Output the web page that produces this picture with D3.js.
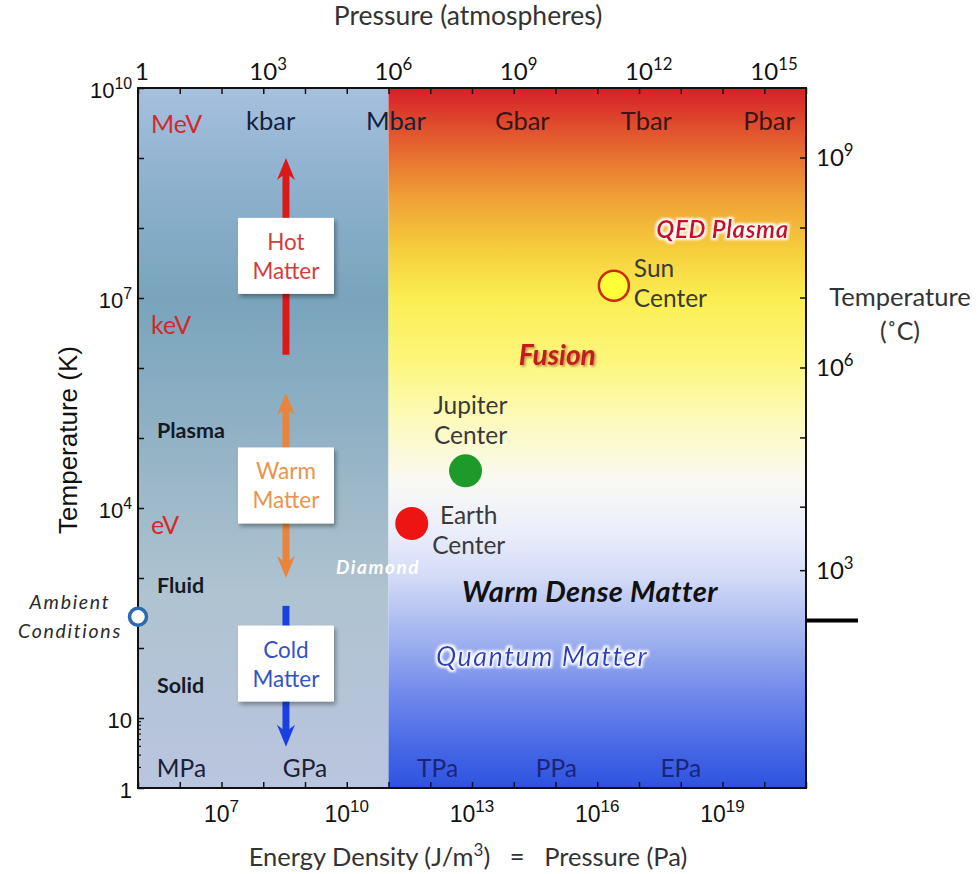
<!DOCTYPE html>
<html><head><meta charset="utf-8">
<script src="https://cdn.jsdelivr.net/npm/d3@7"></script>
<style>body{margin:0;background:#fff}</style>
</head><body>
<svg id="chart" width="978" height="874"></svg>
<script>
// ---------------- data ----------------
const atmTickValues = d3.range(0, 17).map(e => Math.pow(10, e));
const atmLabelValues = [1, 1e3, 1e6, 1e9, 1e12, 1e15];
const paTickValues = d3.range(5, 22).map(e => Math.pow(10, e));
const paLabelValues = [1e7, 1e10, 1e13, 1e16, 1e19];
const tempKTickValues = d3.range(0, 11).map(e => Math.pow(10, e));
const tempKMinorValues = [2, 3, 4, 5, 6, 7, 8, 9];
const tempKLabelValues = [1, 10, 1e4, 1e7, 1e10];
const tempCTickValues = d3.range(3, 11).map(e => Math.pow(10, e));
const tempCLabelValues = [1e3, 1e6, 1e9];
const zeroCelsiusK = 273.15;

const barUnits = ["kbar", "Mbar", "Gbar", "Tbar", "Pbar"];
const barUnitsAtm = [1.5e3, 1.5e6, 1.6e9, 1.5e12, 1.3e15];
const paUnits = ["MPa", "GPa", "TPa", "PPa", "EPa"];
const paUnitsPa = [1.1e6, 1e9, 1.5e12, 1.05e15, 1e18];
const energyUnits = ["MeV", "keV", "eV"];
const energyUnitsK = [3e9, 4e6, 5.5e3];
const phaseNames = ["Plasma", "Fluid", "Solid"];
const phaseTempK = [1.3e5, 800, 30];

const boundaryPa = 1e11;   // Mbar boundary between shaded regions

const objectNames = ["Earth", "Jupiter", "Sun"];
const objectPa = [3.6e11, 7e12, 2.5e16];
const objectK = [6000, 3.4e4, 1.5e7];
const ambientPa = 1e5;
const ambientK = 280;

const regimeNames = [["Hot", "Matter"], ["Warm", "Matter"], ["Cold", "Matter"]];
const regimeBoxK = [4e7, 2.1e4, 60];
const regimeArrowPa = 3.5e8;
const regimeArrowFromK = [1.55e6, 1e3, 400];
const regimeArrowToK = [1e9, 4.4e5, 3.9];

const regionLabels = ["QED Plasma", "Fusion", "Warm Dense Matter", "Quantum Matter", "Diamond"];
const regionLabelPa = [1e19, 1.1e15, 6.7e15, 4.8e14, 5.6e10];
const regionLabelK = [1e8, 1.6e6, 670, 77, 1480];

// ---------------- layout ----------------
const svg = d3.select("#chart");
const X0 = 138, X1 = 806, Y0 = 88, Y1 = 788;
const xPa = d3.scaleLog().domain([1e5, 1e21]).range([X0, X1]);
const xAtm = d3.scaleLog().domain([1, 1e16]).range([X0, X1]);
const yK = d3.scaleLog().domain([1, 1e10]).range([Y1, Y0]);
const yC = c => yK(c + zeroCelsiusK);

const calibri = "Lato, 'Open Sans', sans-serif";
const arial = "'Liberation Sans', Arial, sans-serif";

const defs = svg.append("defs");
const gl = defs.append("linearGradient").attr("id", "gLeft").attr("x1", 0).attr("x2", 0).attr("y1", 0).attr("y2", 1);
[[0, "#a6c0de"], [0.12, "#90b3d0"], [0.3, "#79a4bc"], [0.5, "#92b2c5"], [0.72, "#afc3d0"], [1, "#bac5df"]]
  .forEach(([o, c]) => gl.append("stop").attr("offset", o).attr("stop-color", c));
const gr = defs.append("linearGradient").attr("id", "gRight").attr("x1", 0).attr("x2", 0).attr("y1", 0).attr("y2", 1);
[[0, "#d61f2a"], [0.07, "#e35a2e"], [0.15, "#ef9c36"], [0.23, "#f6cd3c"], [0.3, "#fbee52"], [0.39, "#fdf67c"],
 [0.47, "#fdfab8"], [0.56, "#f9f9f3"], [0.63, "#eceffb"], [0.7, "#d2daf6"], [0.79, "#9eb0ef"], [0.87, "#6d87eb"],
 [0.96, "#3e61e4"], [1, "#2f52e0"]]
  .forEach(([o, c]) => gr.append("stop").attr("offset", o).attr("stop-color", c));
const sh = defs.append("filter").attr("id", "shadow").attr("x", "-20%").attr("y", "-20%").attr("width", "150%").attr("height", "150%");
sh.append("feDropShadow").attr("dx", 2).attr("dy", 3).attr("stdDeviation", 2).attr("flood-color", "#000").attr("flood-opacity", 0.35);
const tsh = defs.append("filter").attr("id", "tshadow").attr("x", "-20%").attr("y", "-40%").attr("width", "140%").attr("height", "180%");
tsh.append("feDropShadow").attr("dx", 1.5).attr("dy", 1.5).attr("stdDeviation", 1).attr("flood-color", "#7a1010").attr("flood-opacity", 0.5);
const glow = defs.append("filter").attr("id", "glow").attr("x", "-10%").attr("y", "-30%").attr("width", "120%").attr("height", "160%");
glow.append("feMorphology").attr("in", "SourceAlpha").attr("operator", "dilate").attr("radius", 1.8).attr("result", "d");
glow.append("feGaussianBlur").attr("in", "d").attr("stdDeviation", 1.2).attr("result", "b");
glow.append("feFlood").attr("flood-color", "#ffffff").attr("flood-opacity", 0.95);
glow.append("feComposite").attr("in2", "b").attr("operator", "in").attr("result", "w");
const gm = glow.append("feMerge"); gm.append("feMergeNode").attr("in", "w"); gm.append("feMergeNode").attr("in", "SourceGraphic");

// regions
svg.append("rect").attr("x", X0).attr("y", Y0).attr("width", xPa(boundaryPa) - X0).attr("height", Y1 - Y0).attr("fill", "url(#gLeft)");
svg.append("rect").attr("x", xPa(boundaryPa)).attr("y", Y0).attr("width", X1 - xPa(boundaryPa)).attr("height", Y1 - Y0).attr("fill", "url(#gRight)");

// ---------------- axes ticks ----------------
svg.append("g").attr("transform", `translate(0,${Y0})`)
  .call(d3.axisTop(xAtm).tickValues(atmTickValues).tickFormat("").tickSize(-6).tickSizeOuter(0))
  .call(g => g.select(".domain").remove()).selectAll("line").attr("stroke", "#111").attr("stroke-width", 1.5);
svg.append("g").attr("transform", `translate(0,${Y1})`)
  .call(d3.axisBottom(xPa).tickValues(paTickValues).tickFormat("").tickSize(-6).tickSizeOuter(0))
  .call(g => g.select(".domain").remove()).selectAll("line").attr("stroke", "#111").attr("stroke-width", 1.5);
svg.append("g").attr("transform", `translate(${X0},0)`)
  .call(d3.axisLeft(yK).tickValues(tempKTickValues).tickFormat("").tickSize(-6).tickSizeOuter(0))
  .call(g => g.select(".domain").remove()).selectAll("line").attr("stroke", "#111").attr("stroke-width", 1.5);
svg.append("g").attr("transform", `translate(${X0},0)`)
  .call(d3.axisLeft(yK).tickValues(tempKMinorValues).tickFormat("").tickSize(-3).tickSizeOuter(0))
  .call(g => g.select(".domain").remove()).selectAll("line").attr("stroke", "#111").attr("stroke-width", 1.2);
svg.append("g").selectAll("line").data(tempCTickValues).join("line")
  .attr("x1", X1).attr("x2", X1 - 6).attr("y1", d => yC(d)).attr("y2", d => yC(d))
  .attr("stroke", "#111").attr("stroke-width", 1.5);

// frame
svg.append("rect").attr("x", X0).attr("y", Y0).attr("width", X1 - X0).attr("height", Y1 - Y0)
  .attr("fill", "none").attr("stroke", "#111").attr("stroke-width", 2);
// 0 °C marker
svg.append("line").attr("x1", X1).attr("x2", X1 + 52).attr("y1", yC(0) + 3).attr("y2", yC(0) + 3)
  .attr("stroke", "#000").attr("stroke-width", 4);

// ---------------- tick labels ----------------
function powLabel(g, v, font, size, expScale) {
  const e = Math.round(Math.log10(v));
  const t = g.append("text").attr("font-family", font).attr("font-size", size).attr("fill", "#111");
  if (e <= 1) { t.text(e === 0 ? "1" : "10"); return t; }
  t.append("tspan").text("10");
  t.append("tspan").attr("font-size", size * (expScale || 0.7)).attr("dy", -size * 0.42).text(e);
  return t;
}
// left
tempKLabelValues.forEach(v => {
  powLabel(svg, v, arial, 22, 0.72).attr("x", 132).attr("y", yK(v) + 10).attr("text-anchor", "end");
});
// bottom (whole label centered)
paLabelValues.forEach(v => {
  powLabel(svg, v, arial, 23, 0.74).attr("x", xPa(v)).attr("y", 822).attr("text-anchor", "middle");
});
// top (base centered on tick)
atmLabelValues.forEach(v => {
  const t = powLabel(svg, v, calibri, 24, 0.7).attr("y", 80).attr("text-anchor", "start");
  const bw = t.node().getSubStringLength(0, v === 1 ? 1 : 2);
  t.attr("x", xAtm(v) - bw / 2 + (v === 1 ? 4 : 0));
});
// right
tempCLabelValues.forEach(v => {
  powLabel(svg, v, calibri, 24, 0.7).attr("x", 816).attr("y", yC(v) + 8).attr("text-anchor", "start");
});

// axis titles
svg.append("text").attr("x", 468).attr("y", 25).attr("text-anchor", "middle")
  .attr("font-family", calibri).attr("font-size", 26.5).attr("fill", "#333").text("Pressure (atmospheres)");
const bt = svg.append("text").attr("x", 468).attr("y", 866).attr("text-anchor", "middle")
  .attr("font-family", calibri).attr("font-size", 25.5).attr("fill", "#333").attr("xml:space", "preserve");
bt.append("tspan").text("Energy Density (J/m");
bt.append("tspan").attr("font-size", 17).attr("dy", -10).text("3");
bt.append("tspan").attr("dy", 10).text(")   =   Pressure (Pa)");
svg.append("text").attr("transform", `translate(77,440) rotate(-90)`).attr("text-anchor", "middle")
  .attr("font-family", arial).attr("font-size", 26).attr("fill", "#111").text("Temperature (K)");
svg.append("text").attr("x", 900).attr("y", 306).attr("text-anchor", "middle")
  .attr("font-family", calibri).attr("font-size", 25.5).attr("fill", "#333").text("Temperature");
svg.append("text").attr("x", 900).attr("y", 340).attr("text-anchor", "middle")
  .attr("font-family", calibri).attr("font-size", 25).attr("fill", "#333").text("(˚C)");

// ---------------- unit labels ----------------
svg.append("g").selectAll("text").data(barUnits).join("text")
  .attr("x", (d, i) => xAtm(barUnitsAtm[i])).attr("y", 130).attr("text-anchor", "middle")
  .attr("font-family", calibri).attr("font-size", 25.5)
  .attr("fill", (d, i) => i < 2 ? "#14213a" : "#3b1414").text(d => d);
svg.append("g").selectAll("text").data(paUnits).join("text")
  .attr("x", (d, i) => xPa(paUnitsPa[i])).attr("y", 777).attr("text-anchor", "middle")
  .attr("font-family", calibri).attr("font-size", 24.5)
  .attr("fill", (d, i) => i < 2 ? "#1a2138" : "#18257a").text(d => d);
svg.append("g").selectAll("text").data(energyUnits).join("text")
  .attr("x", 151).attr("y", (d, i) => yK(energyUnitsK[i]) + 8)
  .attr("font-family", calibri).attr("font-size", 25).attr("fill", "#d12a2a").text(d => d);
svg.append("g").selectAll("text").data(phaseNames).join("text")
  .attr("x", 157).attr("y", (d, i) => yK(phaseTempK[i]) + 8)
  .attr("font-family", calibri).attr("font-weight", "bold").attr("font-size", 21.5).attr("fill", "#151a26").text(d => d);

// ---------------- regime arrows and boxes ----------------
const arrowColors = ["#dd1818", "#e8843c", "#1c3fe2"];
const ax = xPa(regimeArrowPa);
function head(x, tip, dir, color) { // dir -1 up, +1 down
  const L = 22, W = 9;
  svg.append("path").attr("d", `M${x},${tip} L${x - W},${tip - dir * L} L${x},${tip - dir * (L - 7)} L${x + W},${tip - dir * L} Z`)
    .attr("fill", color);
}
regimeArrowFromK.forEach((f, i) => {
  const ya = yK(f), yb = yK(regimeArrowToK[i]);
  const dir = yb > ya ? 1 : -1;
  const both = i === 1;
  svg.append("line").attr("x1", ax).attr("x2", ax)
    .attr("y1", both ? ya + dir * 14 : ya).attr("y2", yb - dir * 14)
    .attr("stroke", arrowColors[i]).attr("stroke-width", 7);
  head(ax, yb, dir, arrowColors[i]);
  if (both) head(ax, ya, -dir, arrowColors[i]);
});
const boxW = 96, boxH = 76;
const txtColors = ["#d43c3c", "#e8944c", "#3452c4"];
regimeNames.forEach((lines, i) => {
  const cy = yK(regimeBoxK[i]);
  svg.append("rect").attr("x", ax - boxW / 2).attr("y", cy - boxH / 2).attr("width", boxW).attr("height", boxH)
    .attr("fill", "#fff").attr("filter", "url(#shadow)");
  lines.forEach((s, j) => {
    svg.append("text").attr("x", ax).attr("y", cy - 6 + j * 29).attr("text-anchor", "middle")
      .attr("font-family", calibri).attr("font-size", 22.5).attr("fill", txtColors[i]).text(s);
  });
});

// ---------------- region labels ----------------
const rl = [
  {fill: "#c8102e", size: 24, weight: "bold", style: "italic", filter: "url(#glow)", ls: 0.6},
  {fill: "#c41c1c", size: 28, weight: "bold", style: "italic", filter: "url(#tshadow)", ls: 0},
  {fill: "#111", size: 29, weight: "bold", style: "italic", filter: null, ls: 0.4},
  {fill: "#2c40bd", size: 27, weight: "normal", style: "italic", filter: "url(#glow)", ls: 1.5},
  {fill: "#ffffff", size: 19, weight: "bold", style: "italic", filter: null, ls: 1.5},
];
regionLabels.forEach((s, i) => {
  const t = svg.append("text").attr("x", xPa(regionLabelPa[i])).attr("y", yK(regionLabelK[i]))
    .attr("text-anchor", "middle").attr("dominant-baseline", "central")
    .attr("font-family", calibri).attr("font-size", rl[i].size).attr("font-weight", rl[i].weight)
    .attr("font-style", rl[i].style).attr("letter-spacing", rl[i].ls).attr("fill", rl[i].fill).text(s);
  if (rl[i].filter) t.attr("filter", rl[i].filter);
});

// ---------------- objects ----------------
const objFill = ["#ee1414", "#1e9a2a", "#ffff38"];
svg.append("g").selectAll("circle").data(objectNames).join("circle")
  .attr("cx", (d, i) => xPa(objectPa[i])).attr("cy", (d, i) => yK(objectK[i]))
  .attr("r", (d, i) => i === 2 ? 15 : 16.5)
  .attr("fill", (d, i) => objFill[i])
  .attr("stroke", (d, i) => i === 2 ? "#cc2a10" : "none").attr("stroke-width", 2.5);
const objLab = [
  {dx: 57, anchor: "middle", y0: 0},      // Earth: right of dot
  {dx: 5, anchor: "middle", y0: -57},     // Jupiter: above the dot
  {dx: 20, anchor: "start", y0: -9},      // Sun: right
];
objectNames.forEach((n, i) => {
  const cx = xPa(objectPa[i]), cy = yK(objectK[i]);
  [n, "Center"].forEach((s, j) => {
    svg.append("text").attr("x", cx + objLab[i].dx).attr("y", cy + objLab[i].y0 + j * 30)
      .attr("text-anchor", objLab[i].anchor).attr("font-family", calibri).attr("font-size", 24.5)
      .attr("fill", "#3a3a3a").text(s);
  });
});
// ambient
svg.append("circle").attr("cx", xPa(ambientPa)).attr("cy", yK(ambientK)).attr("r", 8.5)
  .attr("fill", "#fff").attr("stroke", "#2a6bb0").attr("stroke-width", 3.5);
["Ambient", "Conditions"].forEach((s, j) => {
  svg.append("text").attr("x", 70).attr("y", yK(ambientK) - 8 + j * 29).attr("text-anchor", "middle")
    .attr("font-family", calibri).attr("font-style", "italic").attr("font-size", 19.5).attr("letter-spacing", 1.7)
    .attr("fill", "#2a2a2a").text(s);
});
</script>
</body></html>
